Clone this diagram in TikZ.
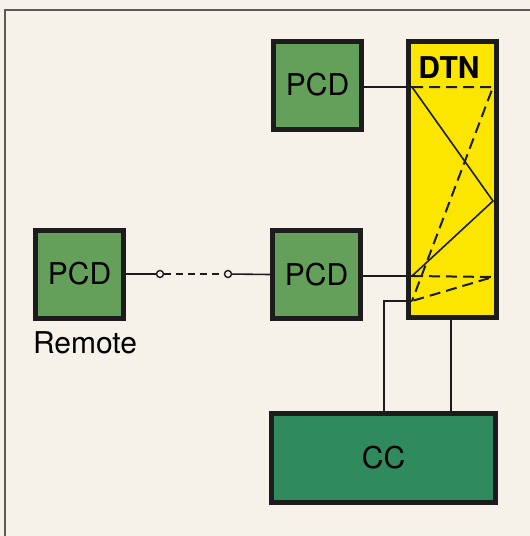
\documentclass[tikz,border=0pt]{standalone}
\usepackage{fontspec}
\setmainfont{TeX Gyre Heros}
\definecolor{bgc}{HTML}{F6F1E9}
\definecolor{pcdgreen}{HTML}{64A05A}
\definecolor{ccgreen}{HTML}{2F8A5E}
\definecolor{dtnyellow}{HTML}{FCE600}
\definecolor{edge}{HTML}{1C1C1C}
\begin{document}
\begin{tikzpicture}[x=1pt,y=-1pt,
  box/.style={draw=edge,line width=5pt,inner sep=0pt,font=\fontsize{30}{32}\selectfont},
  pcd/.style={box,fill=pcdgreen,minimum width=88pt,minimum height=88pt},
  wire/.style={line width=1.6pt,draw=edge},
  dwire/.style={line width=2pt,draw=edge,dash pattern=on 11pt off 6pt},
  link/.style={line width=1.6pt,draw=edge,dash pattern=on 7pt off 5pt},
  port/.style={circle,draw=edge,line width=1.4pt,fill=bgc,inner sep=0pt,minimum size=7pt}]
\fill[bgc] (0,0) rectangle (530,536);
\useasboundingbox (0,0) rectangle (530,536);
\draw[line width=1.5pt,draw=black!65] (5,536) -- (5,10) -- (530,10);
% boxes
\node[pcd] (pcdtop) at (317.5,85) {PCD};
\node[pcd] (pcdmid) at (316.5,274.5) {PCD};
\node[pcd] (pcdrem) at (79.5,274) {PCD};
\node[box,fill=dtnyellow,minimum width=88pt,minimum height=276pt] (dtn) at (452.5,179.5) {};
\node[font=\fontsize{30}{32}\selectfont\bfseries,anchor=base] (dtnlabel) at (449,78) {DTN};
\node[box,fill=ccgreen,minimum width=224pt,minimum height=89pt] (cc) at (383.5,458) {CC};
\node[font=\fontsize{30}{32}\selectfont,anchor=base] (remote) at (85,353) {Remote};
% internal points of DTN
\coordinate (p1) at (412,87);
\coordinate (p2) at (493,87);
\coordinate (p3) at (493,201);
\coordinate (p4) at (412,276);
\coordinate (p5) at (493,277);
\coordinate (p6) at (412,301);
\draw[dwire] (p1) -- (p2) -- (p6);
\draw[dwire] (p4) -- (p5) -- (p6);
\draw[wire] (p1) -- (p3) -- (p4);
\draw[wire] (pcdtop.east |- p1) -- (p1);
\draw[wire] (pcdmid.east |- p4) -- (p4);
\draw[wire] (p6) -- (384,301) -- (384,411);
\draw[wire] (451,320) -- (451,411);
% remote link
\node[port] (c1) at (160,274) {};
\node[port] (c2) at (228,274) {};
\draw[wire] (pcdrem.east) -- (c1);
\draw[link] (c1) -- (c2);
\draw[wire] (c2) -- (pcdmid.west);
\end{tikzpicture}
\end{document}
